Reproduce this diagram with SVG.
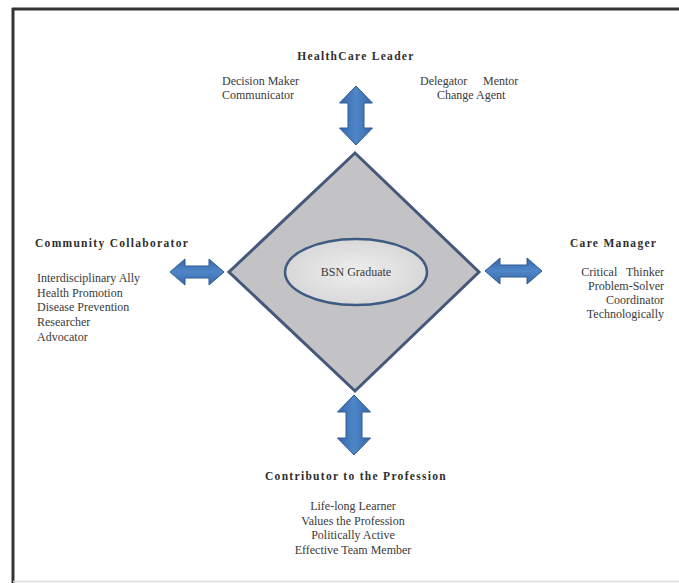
<svg xmlns="http://www.w3.org/2000/svg" width="679" height="583" viewBox="0 0 679 583">
<defs>
<linearGradient id="ag" x1="0" y1="0" x2="1" y2="0">
<stop offset="0" stop-color="#3567a8"/><stop offset="0.5" stop-color="#4f86c8"/><stop offset="1" stop-color="#3567a8"/>
</linearGradient>
<linearGradient id="agh" x1="0" y1="0" x2="0" y2="1">
<stop offset="0" stop-color="#3567a8"/><stop offset="0.5" stop-color="#4f86c8"/><stop offset="1" stop-color="#3567a8"/>
</linearGradient>
<radialGradient id="eg" cx="0.5" cy="0.5" r="0.6">
<stop offset="0" stop-color="#eeeeee"/><stop offset="1" stop-color="#d4d4d6"/>
</radialGradient>
</defs>
<style>
.t{font-family:"Liberation Serif","Times New Roman",serif;font-size:12px;fill:#3a3a3a}
.h{font-family:"Liberation Serif","Times New Roman",serif;font-size:11.5px;font-weight:bold;fill:#2e2e2e;letter-spacing:1.3px}
.arr{stroke:#2f5b94;stroke-width:1}
</style>
<rect width="679" height="583" fill="#ffffff"/>
<g id="frame">
<line x1="12" y1="9" x2="679" y2="9" stroke="#333" stroke-width="3"/>
<line x1="13" y1="8" x2="13" y2="583" stroke="#333" stroke-width="3"/>
<line x1="13" y1="581.5" x2="679" y2="581.5" stroke="#dcdcdc" stroke-width="1.5"/>
</g>
<g id="connectors">
<path class="arr" fill="url(#ag)" d="M356,86 L372.5,103 L364,103 L364,128 L372.5,128 L356,145 L339.5,128 L348,128 L348,103 L339.5,103 Z"/>
<path class="arr" fill="url(#ag)" d="M354,395 L370.5,412 L362,412 L362,438 L370.5,438 L354,455 L337.5,438 L346,438 L346,412 L337.5,412 Z"/>
<path class="arr" fill="url(#agh)" d="M170,272 L185,259 L185,266 L209,266 L209,259 L224,272 L209,285 L209,278 L185,278 L185,285 Z"/>
<path class="arr" fill="url(#agh)" d="M485,271 L500,258 L500,265 L527,265 L527,258 L542,271 L527,284 L527,277 L500,277 L500,284 Z"/>
</g>
<g id="bsn">
<polygon points="355,153 479,272 355,391 229,272" fill="#c3c3c5" stroke="#44597a" stroke-width="3"/>
<ellipse cx="356" cy="272" rx="71" ry="33" fill="url(#eg)" stroke="#3e5b82" stroke-width="2.5"/>
<text class="t" x="356" y="276" text-anchor="middle">BSN Graduate</text>
</g>
<g id="leader">
<text class="h" x="356" y="60" text-anchor="middle">HealthCare Leader</text>
<text class="t" x="222" y="85">Decision Maker</text>
<text class="t" x="222" y="99">Communicator</text>
<text class="t" x="420" y="85">Delegator</text>
<text class="t" x="483" y="85" font-size="11">Mentor</text>
<text class="t" x="437" y="99">Change Agent</text>
</g>
<g id="community">
<text class="h" x="35" y="247">Community Collaborator</text>
<text class="t" x="37" y="282">Interdisciplinary Ally</text>
<text class="t" x="37" y="297">Health Promotion</text>
<text class="t" x="37" y="311">Disease Prevention</text>
<text class="t" x="37" y="326">Researcher</text>
<text class="t" x="37" y="341">Advocator</text>
</g>
<g id="care">
<text class="h" x="570" y="247">Care Manager</text>
<text class="t" x="664" y="276" text-anchor="end" xml:space="preserve">Critical   Thinker</text>
<text class="t" x="664" y="290" text-anchor="end">Problem-Solver</text>
<text class="t" x="664" y="304" text-anchor="end">Coordinator</text>
<text class="t" x="664" y="318" text-anchor="end">Technologically</text>
</g>
<g id="contributor">
<text class="h" x="356" y="480" text-anchor="middle">Contributor to the Profession</text>
<text class="t" x="353" y="510" text-anchor="middle">Life-long Learner</text>
<text class="t" x="353" y="525" text-anchor="middle">Values the Profession</text>
<text class="t" x="353" y="539" text-anchor="middle">Politically Active</text>
<text class="t" x="353" y="554" text-anchor="middle">Effective Team Member</text>
</g>
</svg>
